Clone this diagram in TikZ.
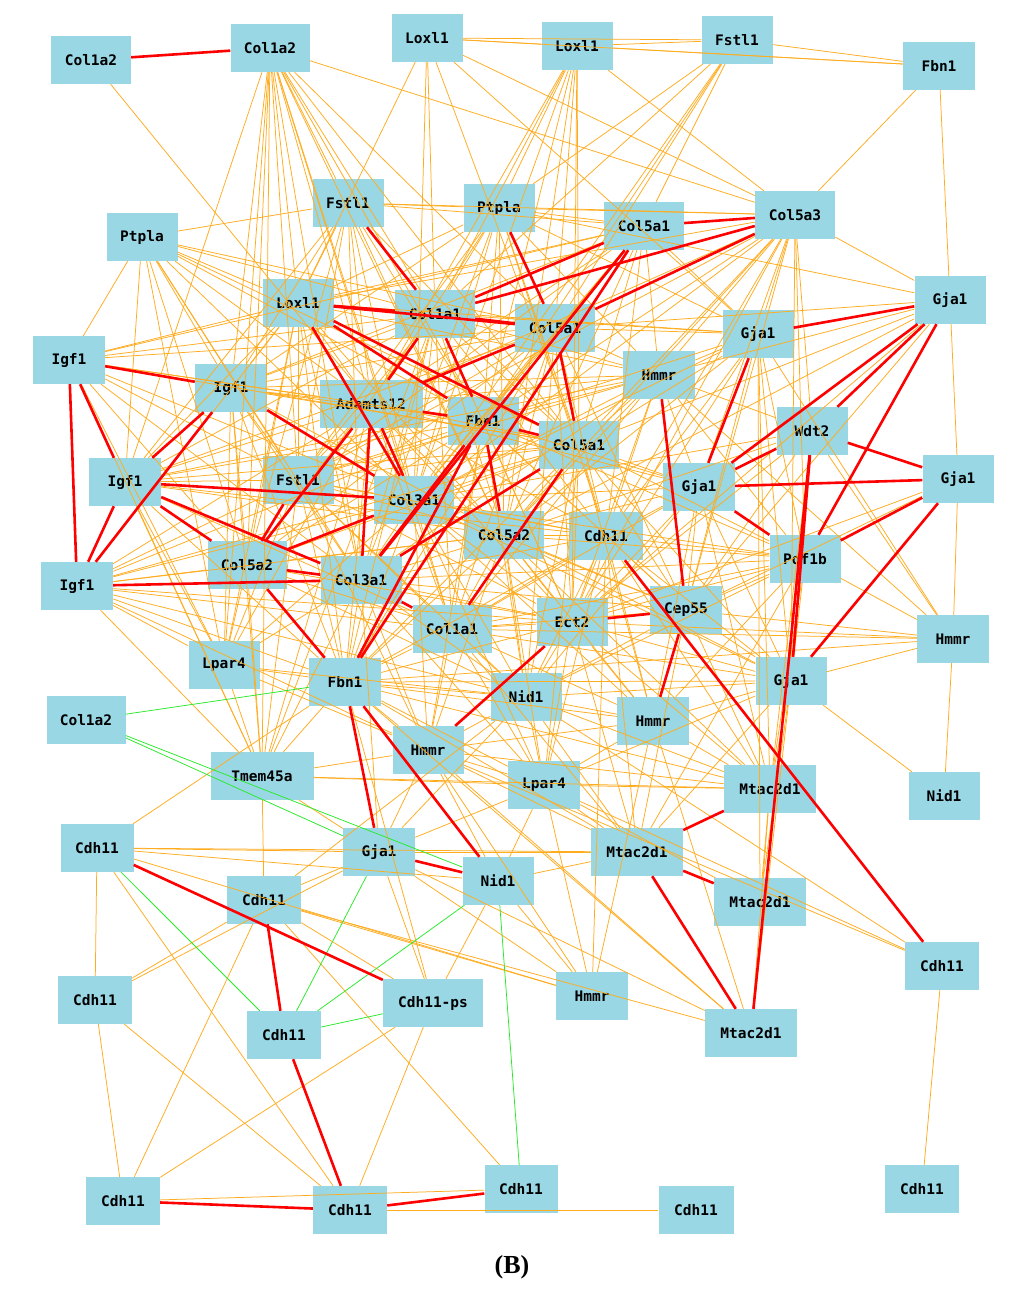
\documentclass[tikz,border=0pt]{standalone}
\usepackage{fontspec}
\newfontfamily\lab{DejaVu Sans Mono}
\newfontfamily\capf{Liberation Serif}
\definecolor{boxc}{RGB}{153,215,229}
\definecolor{redc}{RGB}{255,0,0}
\definecolor{orc}{RGB}{255,172,30}
\definecolor{grc}{RGB}{40,235,40}
\tikzset{
 bx/.style={fill=boxc, minimum height=48pt, minimum width=72pt, inner sep=0pt, font=\lab\bfseries\fontsize{14.5}{16}\selectfont},
 re/.style={draw=redc, line width=2.6pt},
 oe/.style={draw=orc, line width=0.75pt},
 ge/.style={draw=grc, line width=0.75pt},
}
\begin{document}
\begin{tikzpicture}[x=1pt,y=-1pt]
\useasboundingbox (0,0) rectangle (1024,1293);
\fill[white] (0,0) rectangle (1024,1293);
% nodes
\node[bx,minimum width=80pt] (c12a) at (91,60) {Col1a2};
\node[bx,minimum width=79pt] (c12b) at (270,48) {Col1a2};
\node[bx,minimum width=71pt] (lx1) at (427,38) {Loxl1};
\node[bx,minimum width=71pt] (lx2) at (577,46) {Loxl1};
\node[bx,minimum width=71pt] (fs1) at (737,40) {Fstl1};
\node[bx] (fb1) at (939,66) {Fbn1};
\node[bx,minimum width=71pt] (fs2) at (348,203) {Fstl1};
\node[bx,minimum width=71pt] (pt1) at (499,208) {Ptpla};
\node[bx,minimum width=80pt] (c51a) at (644,226) {Col5a1};
\node[bx,minimum width=80pt] (c53) at (795,215) {Col5a3};
\node[bx,minimum width=71pt] (pt2) at (142,237) {Ptpla};
\node[bx,minimum width=71pt] (lx3) at (298,303) {Loxl1};
\node[bx,minimum width=80pt] (c11a) at (435,314) {Col1a1};
\node[bx,minimum width=80pt] (c51b) at (555,328) {Col5a1};
\node[bx,minimum width=71pt] (g1) at (950,300) {Gja1};
\node[bx,minimum width=71pt] (g2) at (758,334) {Gja1};
\node[bx] (i1) at (69,360) {Igf1};
\node[bx] (i2) at (231,388) {Igf1};
\node[bx] (hm1) at (659,375) {Hmmr};
\node[bx,minimum width=103pt] (ad) at (371,404) {Adamts12};
\node[bx,minimum width=71pt] (fb2) at (483,421) {Fbn1};
\node[bx,minimum width=80pt] (c51c) at (579,445) {Col5a1};
\node[bx,minimum width=71pt] (wd) at (812,431) {Wdt2};
\node[bx] (i3) at (125,482) {Igf1};
\node[bx,minimum width=71pt] (fs3) at (298,480) {Fstl1};
\node[bx,minimum width=80pt] (c31a) at (414,500) {Col3a1};
\node[bx] (g3) at (699,487) {Gja1};
\node[bx,minimum width=71pt] (g4) at (958,479) {Gja1};
\node[bx,minimum width=80pt] (c52a) at (504,535) {Col5a2};
\node[bx,minimum width=74pt] (cd1) at (606,536) {Cdh11};
\node[bx,minimum width=79pt] (c52b) at (247,565) {Col5a2};
\node[bx,minimum width=81pt] (c31b) at (361,580) {Col3a1};
\node[bx,minimum width=71pt] (pf) at (805,559) {Pof1b};
\node[bx] (i4) at (77,586) {Igf1};
\node[bx,minimum width=79pt] (c11b) at (452,629) {Col1a1};
\node[bx,minimum width=71pt] (ec) at (572,622) {Ect2};
\node[bx] (cp) at (686,610) {Cep55};
\node[bx] (hm2) at (953,639) {Hmmr};
\node[bx,minimum width=71pt] (lp1) at (224,665) {Lpar4};
\node[bx] (fb3) at (345,682) {Fbn1};
\node[bx,minimum width=71pt] (n1) at (526,697) {Nid1};
\node[bx,minimum width=71pt] (g5) at (791,681) {Gja1};
\node[bx,minimum width=79pt] (c12c) at (86,720) {Col1a2};
\node[bx] (hm3) at (653,721) {Hmmr};
\node[bx,minimum width=71pt] (hm4) at (428,750) {Hmmr};
\node[bx,minimum width=103pt] (tm) at (262,776) {Tmem45a};
\node[bx] (lp2) at (544,785) {Lpar4};
\node[bx,minimum width=92pt] (mt1) at (770,789) {Mtac2d1};
\node[bx,minimum width=71pt] (n2) at (944,796) {Nid1};
\node[bx,minimum width=73pt] (cd2) at (97,848) {Cdh11};
\node[bx] (g6) at (379,852) {Gja1};
\node[bx,minimum width=92pt] (mt2) at (637,852) {Mtac2d1};
\node[bx,minimum width=71pt] (n3) at (498,881) {Nid1};
\node[bx,minimum width=74pt] (cd3) at (264,900) {Cdh11};
\node[bx,minimum width=92pt] (mt3) at (760,902) {Mtac2d1};
\node[bx,minimum width=74pt] (cd4) at (942,966) {Cdh11};
\node[bx,minimum width=74pt] (cd5) at (95,1000) {Cdh11};
\node[bx,minimum width=100pt] (cps) at (433,1003) {Cdh11-ps};
\node[bx] (hm5) at (592,996) {Hmmr};
\node[bx,minimum width=74pt] (cd6) at (284,1035) {Cdh11};
\node[bx,minimum width=92pt] (mt4) at (751,1033) {Mtac2d1};
\node[bx,minimum width=74pt] (cd7) at (123,1201) {Cdh11};
\node[bx,minimum width=74pt] (cd8) at (350,1210) {Cdh11};
\node[bx,minimum width=73pt] (cd9) at (521,1189) {Cdh11};
\node[bx,minimum width=75pt] (cd10) at (696,1210) {Cdh11};
\node[bx,minimum width=74pt] (cd11) at (922,1189) {Cdh11};
\node[font=\capf\bfseries\fontsize{26}{28}\selectfont] (cap) at (512,1267) {(B)};
% orange edges
\foreach \a/\b in {
 c12a/ad,
 c12b/lx3,c12b/tm,c12b/i3,c12b/i2,c12b/fs2,c12b/fs3,c12b/ad,c12b/c31a,c12b/c31b,c12b/c11a,c12b/fb2,c12b/c51b,c12b/c51c,c12b/c52a,c12b/c52b,c12b/c53,c12b/c11b,c12b/lp1,
 lx1/lx2,lx1/fs1,lx1/fb1,lx1/lx3,lx1/c11a,lx1/c51c,lx1/c53,lx1/g2,lx1/c31a,
 lx2/fs1,lx2/fb1,lx2/c53,lx2/pt1,lx2/c51b,lx2/c11a,lx2/fb2,lx2/c51c,lx2/c52a,lx2/ad,lx2/c31a,lx2/ec,
 fs1/fb1,fs1/c51a,fs1/c51b,fs1/c11a,fs1/pt1,fs1/c31a,fs1/fb2,
 fb1/c53,fb1/g1,
 fs2/pt1,fs2/c51a,fs2/c53,fs2/pt2,fs2/lx3,fs2/ad,fs2/fb2,fs2/c31a,fs2/c51c,fs2/i2,fs2/i3,fs2/fs3,fs2/c52b,fs2/c31b,fs2/c52a,
 pt1/c51a,pt1/c53,pt1/lx3,pt1/c11a,pt1/ad,pt1/fb2,pt1/c31a,pt1/c51c,pt1/c52a,pt1/cd1,pt1/hm1,pt1/g1,pt1/g2,pt1/i2,pt1/fs3,pt1/c31b,
 c51a/lx3,c51a/ad,c51a/fb2,c51a/c31a,c51a/c51c,c51a/c52a,c51a/cd1,c51a/hm1,c51a/g2,c51a/i2,c51a/fs3,c51a/i1,
 c53/g1,c53/lx3,c53/ad,c53/fb2,c53/c51c,c53/c31a,c53/hm1,c53/g2,c53/g3,c53/pf,c53/c52a,c53/cd1,c53/wd,c53/g5,c53/ec,c53/cp,c53/fs3,
 pt2/c51b,pt2/i1,pt2/i3,pt2/c52b,pt2/i2,pt2/lx3,pt2/c11a,pt2/ad,pt2/fb2,pt2/c31a,pt2/fs3,pt2/c31b,pt2/lp1,pt2/c51c,
 lx3/hm1,lx3/g2,lx3/i1,lx3/i2,lx3/i3,lx3/ad,lx3/fs3,lx3/c31b,lx3/c52b,lx3/c52a,lx3/fb3,lx3/i4,lx3/lp1,
 c11a/hm1,c11a/g2,c11a/i1,c11a/i2,c11a/i3,c11a/fs3,c11a/c31a,c11a/c31b,c11a/c52a,c11a/c52b,c11a/cd1,c11a/c11b,c11a/ec,c11a/fb3,c11a/tm,c11a/c51c,
 c51b/hm1,c51b/g2,c51b/g1,c51b/i1,c51b/i2,c51b/i3,c51b/fs3,c51b/c31a,c51b/c31b,c51b/c52a,c51b/c52b,c51b/cd1,c51b/c11b,c51b/ec,c51b/cp,c51b/fb3,c51b/n1,
 g1/hm1,g1/c51c,g1/g4,g1/cp,g1/c52a,g1/ec,
 g2/hm1,g2/fb2,g2/c51c,g2/c31a,g2/c52a,g2/cd1,g2/ec,g2/cp,g2/pf,g2/g5,g2/mt1,g2/mt3,g2/hm2,
 i1/ad,i1/fs3,i1/c31a,i1/c31b,i1/c52b,i1/fb2,i1/c51c,i1/tm,i1/lp1,
 i2/ad,i2/fs3,i2/c52b,i2/c52a,i2/c51c,i2/fb2,i2/hm1,i2/c31b,i2/lp1,i2/tm,i2/fb3,
 hm1/fb2,hm1/c51c,hm1/c31a,hm1/c31b,hm1/c52a,hm1/cd1,hm1/g3,hm1/pf,hm1/ec,hm1/c11b,hm1/fs3,hm1/ad,hm1/i3,hm1/wd,hm1/hm2,
 ad/c51c,ad/c52a,ad/cd1,ad/i3,ad/i4,ad/fs3,ad/c11b,ad/g3,ad/fb3,ad/ec,ad/lp1,ad/tm,
 fb2/cd1,fb2/g3,fb2/i3,fb2/i4,fb2/fs3,fb2/c52b,fb2/c11b,fb2/ec,fb2/cp,fb2/n1,fb2/pf,fb2/hm4,
 c51c/cd1,c51c/g3,c51c/i3,c51c/i4,c51c/fs3,c51c/c31a,c51c/c52a,c51c/c52b,c51c/ec,c51c/cp,c51c/n1,c51c/pf,c51c/fb3,c51c/lp2,c51c/g5,c51c/hm3,
 wd/cp,wd/ec,wd/c31a,wd/c52a,wd/hm2,wd/mt1,
 i3/fs3,i3/c52a,i3/c11b,i3/lp1,i3/tm,i3/fb3,i3/cd1,
 fs3/c31a,fs3/c52a,fs3/cd1,fs3/c11b,fs3/i4,fs3/fb3,fs3/lp1,fs3/tm,fs3/ec,fs3/n1,fs3/hm4,
 c31a/c52a,c31a/cd1,c31a/c11b,c31a/ec,c31a/cp,c31a/g3,c31a/pf,c31a/n1,c31a/fb3,c31a/hm4,c31a/i4,c31a/lp2,c31a/hm3,c31a/g5,c31a/lp1,c31a/c31b,
 g3/c52a,g3/cd1,g3/ec,g3/cp,g3/c11b,g3/g5,g3/mt1,g3/hm3,g3/n1,
 g4/hm2,g4/cp,g4/ec,
 c52a/cd1,c52a/c11b,c52a/ec,c52a/cp,c52a/pf,c52a/n1,c52a/fb3,c52a/c31b,c52a/c52b,c52a/lp2,c52a/hm3,c52a/hm4,c52a/g5,c52a/mt1,c52a/i4,
 cd1/ec,cd1/cp,cd1/pf,cd1/n1,cd1/c11b,cd1/c31b,cd1/hm3,cd1/lp2,cd1/mt2,cd1/g5,cd1/hm5,cd1/fb3,cd1/mt1,
 c52b/i4,c52b/lp1,c52b/tm,c52b/c11b,c52b/ec,c52b/n1,
 c31b/i4,c31b/lp1,c31b/fb3,c31b/ec,c31b/n1,c31b/tm,c31b/hm4,c31b/g6,c31b/cp,c31b/lp2,c31b/pf,
 pf/ec,pf/cp,pf/c11b,pf/n1,pf/g5,pf/mt1,pf/hm2,pf/mt2,pf/hm3,
 i4/c11b,i4/fb3,i4/lp1,i4/tm,i4/n1,i4/ec,i4/hm4,
 c11b/ec,c11b/cp,c11b/n1,c11b/fb3,c11b/hm2,c11b/hm4,c11b/lp2,c11b/g5,c11b/mt2,c11b/hm3,
 ec/n1,ec/hm2,ec/g5,ec/hm3,ec/lp2,ec/mt1,ec/fb3,ec/mt2,
 cp/hm2,cp/g5,cp/n1,cp/hm3,cp/mt1,cp/mt2,
 hm2/g5,hm2/n2,hm2/fb3,
 lp1/fb3,lp1/tm,lp1/hm4,lp1/n1,
 fb3/n1,fb3/hm4,fb3/tm,fb3/lp2,fb3/cd2,fb3/mt1,fb3/g5,fb3/hm3,fb3/mt2,fb3/mt4,fb3/cps,
 n1/hm4,n1/lp2,n1/g5,n1/hm3,n1/mt2,n1/cd4,n1/mt1,n1/g6,n1/cd3,
 g5/n2,g5/mt1,g5/mt3,g5/hm3,g5/lp2,g5/mt2,g5/mt4,
 hm3/mt1,hm3/lp2,hm3/hm5,hm3/mt4,hm3/hm4,
 hm4/lp2,hm4/mt1,hm4/g6,hm4/n3,hm4/tm,hm4/mt2,hm4/hm5,hm4/mt4,hm4/cd4,
 tm/cd3,tm/g6,tm/lp2,tm/mt1,
 lp2/mt1,lp2/mt2,lp2/n3,lp2/g6,lp2/hm5,lp2/mt3,lp2/cd4,
 mt1/mt3,mt1/mt4,
 cd2/g6,cd2/mt2,cd2/n3,cd2/hm5,cd2/cd5,cd2/cd8,
 g6/mt2,g6/cd3,g6/cps,g6/hm5,g6/mt4,g6/cd5,
 n3/mt2,n3/hm5,n3/cps,
 cd3/cd5,cd3/cd7,cd3/cd9,cd3/cps,cd3/hm5,cd3/mt4,
 cd5/cd7,cd5/cd8,
 cps/cd7,cps/cd8,
 cd8/cd10,cd7/cd9,
 cd4/cd11}
 \draw[oe] (\a) -- (\b);
% green edges
\foreach \a/\b in {c12c/fb3,c12c/n3,c12c/g6,cd2/cd6,g6/cd6,n3/cd6,cps/cd6,n3/cd9}
 \draw[ge] (\a) -- (\b);
% red edges
\foreach \a/\b in {
 c12a/c12b,fs2/c11a,pt1/c51b,c51a/c11a,c53/c51a,c53/c11a,c53/c51b,c51a/c31b,c51a/fb3,
 lx3/c11a,lx3/c51b,c11a/c51b,lx3/fb2,lx3/c51c,lx3/c31a,c11a/fb2,c11a/ad,c51b/ad,c51b/c51c,
 ad/fb2,fb2/c51c,fb2/c52a,c51c/c31b,c51c/c11b,fb2/c31b,fb2/fb3,ad/c31a,ad/c31b,ad/c52b,
 i1/i2,i1/i4,i1/i3,i2/i3,i2/i4,i3/i4,i2/c31a,i3/c31a,i3/c31b,i3/c52b,i4/c31b,
 c52b/c31b,fs3/c52b,c52b/c31a,c52b/fb3,c31b/c11b,
 cd1/cd4,hm1/cp,ec/cp,ec/hm4,cp/hm3,fb3/g6,fb3/n3,g6/n3,
 mt2/mt1,mt2/mt3,mt2/mt4,wd/mt4,wd/g5,g5/g4,
 g1/g2,g1/g3,g1/wd,g1/pf,g2/g3,wd/g3,wd/g4,g3/g4,g3/pf,g4/pf,
 cd2/cps,cd3/cd6,cd6/cd8,cd7/cd8,cd8/cd9}
 \draw[re] (\a) -- (\b);
\end{tikzpicture}
\end{document}
